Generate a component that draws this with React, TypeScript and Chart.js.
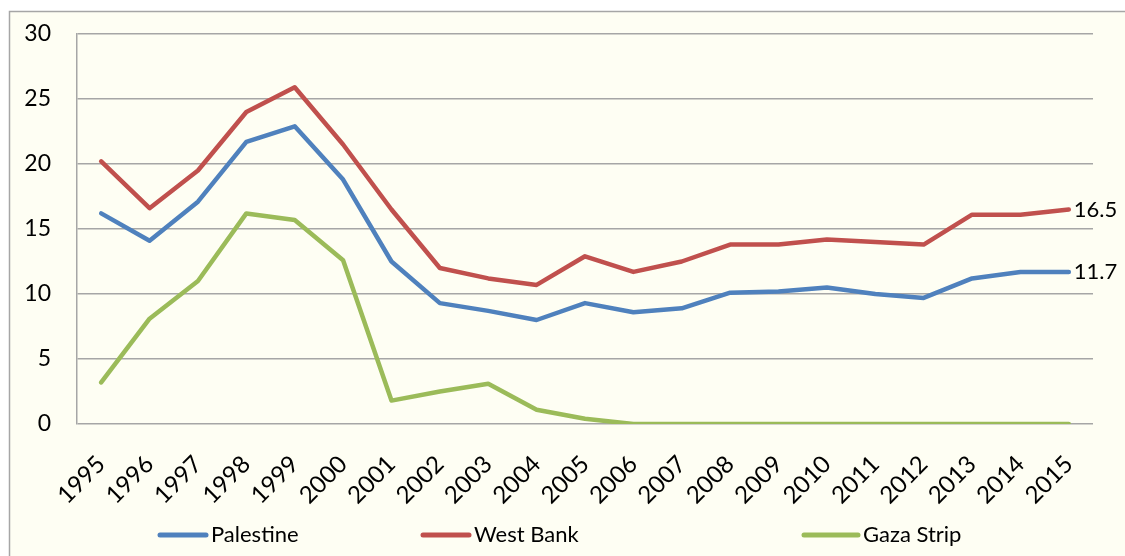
import React, { useEffect, useRef } from "react";
import { Chart, registerables } from "chart.js";

Chart.register(...registerables);

const years = ["1995","1996","1997","1998","1999","2000","2001","2002","2003","2004","2005","2006","2007","2008","2009","2010","2011","2012","2013","2014","2015"];
const palestine = [16.2,14.1,17.1,21.7,22.9,18.8,12.5,9.3,8.7,8.0,9.3,8.6,8.9,10.1,10.2,10.5,10.0,9.7,11.2,11.7,11.7];
const westBank = [20.2,16.6,19.5,24.0,25.9,21.5,16.5,12.0,11.2,10.7,12.9,11.7,12.5,13.8,13.8,14.2,14.0,13.8,16.1,16.1,16.5];
const gaza = [3.2,8.1,11.0,16.2,15.7,12.6,1.8,2.5,3.1,1.1,0.4,0,0,0,0,0,0,0,0,0,0];
const yTicks = [0,5,10,15,20,25,30];

const FONT = "Lato, 'Open Sans', sans-serif";
const COLORS = ["#4F81BD", "#C0504D", "#9BBB59"];

export default function App() {
  const ref = useRef<HTMLCanvasElement | null>(null);
  useEffect(() => {
    document.body.style.margin = "0";
    const canvas = ref.current!;
    const bgPlugin = {
      id: "bg",
      beforeDraw(chart: any) {
        const ctx = chart.ctx;
        ctx.save();
        ctx.fillStyle = "#ffffff";
        ctx.fillRect(0, 0, chart.width, chart.height);
        ctx.fillStyle = "#FEFEF3";
        ctx.fillRect(9, 11, chart.width - 9, chart.height - 11);
        ctx.strokeStyle = "#A6A6A6";
        ctx.lineWidth = 1.5;
        ctx.beginPath();
        ctx.moveTo(9.5, chart.height);
        ctx.lineTo(9.5, 11.5);
        ctx.lineTo(chart.width, 11.5);
        ctx.stroke();
        ctx.restore();
      },
    };
    const extrasPlugin = {
      id: "extras",
      afterDraw(chart: any) {
        const ctx = chart.ctx;
        ctx.save();
        // end labels
        ctx.font = `22px ${FONT}`;
        ctx.fillStyle = "#000";
        ctx.textBaseline = "middle";
        ctx.textAlign = "left";
        [0, 1].forEach((di) => {
          const meta = chart.getDatasetMeta(di);
          const pt = meta.data[meta.data.length - 1];
          const v = chart.data.datasets[di].data[meta.data.length - 1];
          ctx.fillText(Number(v).toFixed(1), pt.x + 5, pt.y);
        });
        // legend
        const items = [
          { x: 160, w: 46 },
          { x: 423, w: 46 },
          { x: 804, w: 54 },
        ];
        const y = 535;
        chart.data.datasets.forEach((ds: any, i: number) => {
          const it = items[i];
          ctx.strokeStyle = ds.borderColor;
          ctx.lineWidth = 5;
          ctx.lineCap = "round";
          ctx.beginPath();
          ctx.moveTo(it.x, y);
          ctx.lineTo(it.x + it.w, y);
          ctx.stroke();
          ctx.fillStyle = "#000";
          ctx.font = `22px ${FONT}`;
          ctx.textBaseline = "middle";
          ctx.fillText(ds.label, it.x + it.w + 5, y);
        });
        ctx.restore();
      },
    };
    const mk = (label: string, data: number[], color: string) => ({
      label,
      data,
      borderColor: color,
      backgroundColor: color,
      borderWidth: 4.5,
      pointRadius: 0,
      tension: 0,
      borderCapStyle: "round",
      borderJoinStyle: "round",
    });
    const chart = new Chart(canvas, {
      type: "line",
      data: {
        labels: years,
        datasets: [
          mk("Palestine", palestine, COLORS[0]),
          mk("West Bank", westBank, COLORS[1]),
          mk("Gaza Strip", gaza, COLORS[2]),
        ],
      },
      plugins: [bgPlugin, extrasPlugin],
      options: {
        animation: false,
        responsive: false,
        maintainAspectRatio: false,
        layout: { padding: { left: 0, top: 34, right: 32, bottom: 46 } },
        plugins: { legend: { display: false }, tooltip: { enabled: false } },
        scales: {
          x: {
            offset: true,
            grid: { display: false, drawTicks: false },
            border: { display: false },
            ticks: {
              minRotation: 45,
              maxRotation: 45,
              autoSkip: false,
              padding: 26,
              color: "#000",
              font: { family: FONT, size: 24 },
            },
            afterFit(scale: any) {
              scale.height = 86;
              scale.paddingLeft = 0;
              scale.paddingRight = 0;
            },
          },
          y: {
            min: 0,
            max: 30,
            afterBuildTicks(scale: any) {
              scale.ticks = yTicks.map((v) => ({ value: v }));
            },
            grid: { color: "#A6A6A6", lineWidth: 1.5, drawTicks: false },
            border: { display: true, color: "#A6A6A6", width: 1.5 },
            ticks: {
              padding: 26,
              color: "#000",
              font: { family: FONT, size: 23 },
            },
            afterFit(scale: any) {
              scale.width = 77;
              scale.paddingTop = 0;
              scale.paddingBottom = 0;
            },
          },
        },
      } as any,
    });
    return () => chart.destroy();
  }, []);
  return (
    <div style={{ width: 1125, height: 556 }}>
      <canvas ref={ref} width={1125} height={556} style={{ display: "block" }} />
    </div>
  );
}
